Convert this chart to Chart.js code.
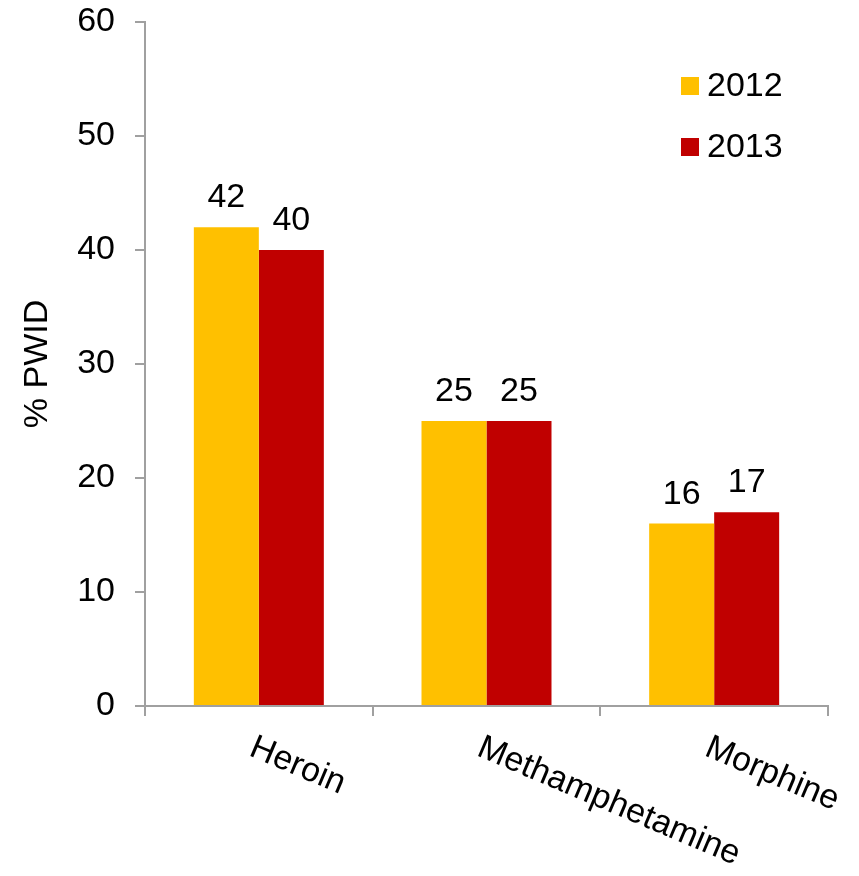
<!DOCTYPE html>
<html>
<head>
<meta charset="utf-8">
<script src="https://cdn.jsdelivr.net/npm/chart.js@4.4.0/dist/chart.umd.min.js"></script>
<style>
  html, body { margin: 0; padding: 0; background: #fff; }
  #wrap { width: 859px; height: 876px; }
</style>
</head>
<body>
<div id="wrap"><canvas id="chartCanvas" width="859" height="876"></canvas></div>
<script>
// Data
var categories = ["Heroin", "Methamphetamine", "Morphine"];
var seriesNames = ["2012", "2013"];
var values2012 = [42, 25, 16];
var values2013 = [40, 25, 17];
var yTicks = [0, 10, 20, 30, 40, 50, 60];

var fontFamily = "'Liberation Sans', Arial, sans-serif";
var fontSize = 34;
var axisColor = "#a0a0a0";
var colors = ["#FFC000", "#C00000"];

// value labels above each bar
var valueLabels = {
	id: "valueLabels",
	afterDatasetsDraw: function(chart) {
		var ctx = chart.ctx;
		ctx.save();
		ctx.font = fontSize + "px " + fontFamily;
		ctx.fillStyle = "#000";
		ctx.textAlign = "center";
		ctx.textBaseline = "alphabetic";
		chart.data.datasets.forEach(function(ds, i) {
			chart.getDatasetMeta(i).data.forEach(function(bar, j) {
				ctx.fillText(ds.data[j], bar.x, bar.y - 20);
			});
		});
		ctx.restore();
	}
};

// rotated category labels, hanging down-right from the category centre
var categoryLabels = {
	id: "categoryLabels",
	afterDraw: function(chart) {
		var ctx = chart.ctx;
		var xScale = chart.scales.x;
		ctx.save();
		ctx.font = fontSize + "px " + fontFamily;
		ctx.fillStyle = "#000";
		ctx.textAlign = "left";
		ctx.textBaseline = "alphabetic";
		categories.forEach(function(c, i) {
			ctx.save();
			ctx.translate(xScale.getPixelForValue(i) - 11, xScale.top + 49);
			ctx.rotate(23 * Math.PI / 180);
			ctx.fillText(c, 0, 0);
			ctx.restore();
		});
		ctx.restore();
	}
};

// legend stacked inside the plot, top right
var insideLegend = {
	id: "insideLegend",
	afterDraw: function(chart) {
		var ctx = chart.ctx;
		ctx.save();
		ctx.font = fontSize + "px " + fontFamily;
		ctx.textAlign = "left";
		ctx.textBaseline = "middle";
		chart.data.datasets.forEach(function(ds, i) {
			var y = 86 + i * 61;
			ctx.fillStyle = ds.backgroundColor;
			ctx.fillRect(681, y - 9, 18, 18);
			ctx.fillStyle = "#000";
			ctx.fillText(ds.label, 707, y + 1);
		});
		ctx.restore();
	}
};

var chart = new Chart(document.getElementById("chartCanvas").getContext("2d"), {
	type: "bar",
	data: {
		labels: categories,
		datasets: [
			{ label: seriesNames[0], data: values2012, backgroundColor: colors[0] },
			{ label: seriesNames[1], data: values2013, backgroundColor: colors[1] }
		]
	},
	options: {
		responsive: false,
		animation: false,
		categoryPercentage: 0.571,
		barPercentage: 1,
		layout: { padding: { left: 0, top: 22, right: 31, bottom: 0 } },
		plugins: {
			legend: { display: false },
			tooltip: { enabled: false }
		},
		scales: {
			x: {
				ticks: { display: false },
				grid: {
					drawOnChartArea: false, drawTicks: true, tickLength: 10,
					color: axisColor, lineWidth: 2
				},
				border: { display: true, color: axisColor, width: 2 },
				afterFit: function(scale) { scale.height = 170; }
			},
			y: {
				min: 0,
				max: 60,
				afterBuildTicks: function(scale) {
					scale.ticks = yTicks.map(function(v) { return { value: v }; });
				},
				ticks: {
					color: "#000",
					padding: 20,
					font: { family: fontFamily, size: fontSize }
				},
				grid: {
					drawOnChartArea: false, drawTicks: true, tickLength: 10,
					color: axisColor, lineWidth: 2
				},
				border: { display: true, color: axisColor, width: 2 },
				title: {
					display: true,
					text: "% PWID",
					color: "#000",
					font: { family: fontFamily, size: fontSize },
					padding: { top: 17, bottom: 0 }
				},
				afterFit: function(scale) {
					scale.width = 145;
					scale.paddingTop = 0;
					scale.paddingBottom = 0;
				}
			}
		}
	},
	plugins: [valueLabels, categoryLabels, insideLegend]
});
</script>
</body>
</html>
